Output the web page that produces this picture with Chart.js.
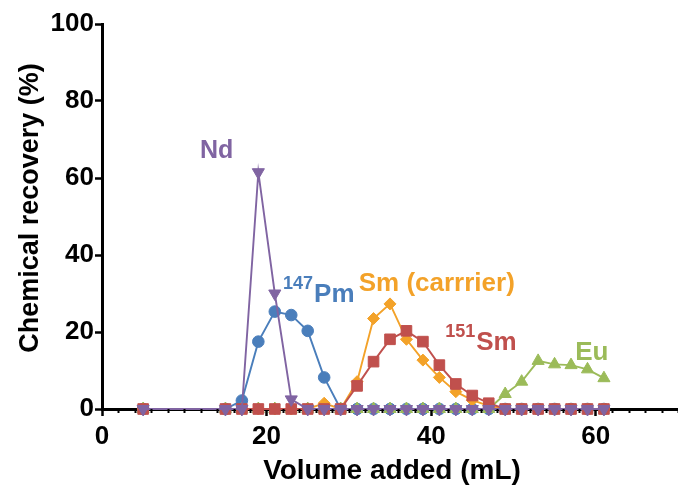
<!DOCTYPE html>
<html>
<head>
<meta charset="utf-8">
<script src="https://cdn.jsdelivr.net/npm/chart.js@4/dist/chart.umd.min.js"></script>
<style>
  html, body { margin: 0; padding: 0; background: #fff; }
  #wrap { width: 678px; height: 487px; position: relative; }
</style>
</head>
<body>
<div id="wrap"><canvas id="c" width="678" height="487"></canvas></div>
<script>
// Eluted volume (mL) at each collected fraction
const volume = [5, 15, 17, 19, 21, 23, 25, 27, 29, 31, 33, 35, 37, 39, 41, 43, 45, 47, 49, 51, 53, 55, 57, 59, 61];

// Chemical recovery (%) per fraction
const nd      = [0, 0, 0, 61.5, 30, 2.5, 0, 0, 0, 0, 0, 0, 0, 0, 0, 0, 0, 0, 0, 0, 0, 0, 0, 0, 0];
const pm147   = [0, 0, 2.2, 17.5, 25.3, 24.4, 20.3, 8.2, 0, 0, 0, 0, 0, 0, 0, 0, 0, 0, 0, 0, 0, 0, 0, 0, 0];
const smCarr  = [0, 0, 0, 0, 0, 0, 0, 1.5, 0, 7.1, 23.5, 27.3, 18.1, 12.7, 8.2, 4.5, 2.3, 0.8, 0, 0, 0, 0, 0, 0, 0];
const sm151   = [0, 0, 0, 0, 0, 0, 0, 0, 0, 6.0, 12.3, 18.1, 20.3, 17.5, 11.4, 6.5, 3.5, 1.5, 0, 0, 0, 0, 0, 0, 0];
const eu      = [0, 0, 0, 0, 0, 0, 0, 0, 0, 0, 0, 0, 0, 0, 0, 0, 0, 0, 3.9, 7.1, 12.5, 11.6, 11.4, 10.3, 8.0];

const yTicks = [0, 20, 40, 60, 80, 100];
const xTicks = [0, 20, 40, 60];

const COL = {
  nd: '#8064A2',
  pm: '#4A7EBB',
  smc: '#F3A229',
  sm: '#C0504D',
  eu: '#9BBB59'
};

const pts = arr => volume.map((v, i) => ({ x: v, y: arr[i] }));

function series(label, arr, color, style, radius, order, rotation) {
  return {
    label, data: pts(arr),
    borderColor: color, backgroundColor: color,
    pointBackgroundColor: color, pointBorderColor: color,
    pointStyle: style, pointRadius: radius, pointHoverRadius: radius,
    pointRotation: rotation || 0,
    borderWidth: 1.9, pointBorderWidth: 1,
    tension: 0, clip: false, order
  };
}

const FONT = '"Liberation Sans", Arial, sans-serif';

// Series labels, placed in data coordinates
const seriesLabels = [
  { x: 11.9, y: 65.1, size: 25, parts: [{ t: 'Nd', sup: false }], color: COL.nd },
  { x: 22.0, y: 27.8, size: 26, parts: [{ t: '147', sup: true }, { t: 'Pm', sup: false }], color: COL.pm },
  { x: 31.2, y: 30.6, size: 26, parts: [{ t: 'Sm (carrrier)', sup: false }], color: COL.smc },
  { x: 41.7, y: 15.3, size: 26, parts: [{ t: '151', sup: true }, { t: 'Sm', sup: false }], color: COL.sm },
  { x: 57.5, y: 12.7, size: 26, parts: [{ t: 'Eu', sup: false }], color: COL.eu }
];

const decor = {
  id: 'decor',
  afterDraw(chart) {
    const ctx = chart.ctx;
    const xs = chart.scales.x, ys = chart.scales.y;
    const area = chart.chartArea;
    ctx.save();
    // minor ticks on the volume axis
    ctx.strokeStyle = '#000';
    ctx.lineWidth = 2;
    for (let v = 2; v <= 70; v += 2) {
      if (v % 20 === 0) continue;
      const px = Math.round(xs.getPixelForValue(v)) + 0.5;
      ctx.beginPath();
      ctx.moveTo(px, area.bottom);
      ctx.lineTo(px, area.bottom + 4);
      ctx.stroke();
    }
    // series labels
    ctx.textBaseline = 'alphabetic';
    ctx.textAlign = 'left';
    seriesLabels.forEach(l => {
      let px = xs.getPixelForValue(l.x);
      const py = ys.getPixelForValue(l.y);
      ctx.fillStyle = l.color;
      l.parts.forEach(p => {
        ctx.font = 'bold ' + (p.sup ? 18 : l.size) + 'px ' + FONT;
        ctx.fillText(p.t, px, p.sup ? py - 13 : py);
        px += ctx.measureText(p.t).width + (p.sup ? 1 : 0);
      });
    });
    // axis titles
    ctx.fillStyle = '#000';
    ctx.textAlign = 'center';
    ctx.font = 'bold 28px ' + FONT;
    ctx.fillText('Volume added (mL)', 392, 479);
    ctx.font = 'bold 27px ' + FONT;
    ctx.translate(38, 208);
    ctx.rotate(-Math.PI / 2);
    ctx.fillText('Chemical recovery (%)', 0, 0);
    ctx.restore();
  }
};

new Chart(document.getElementById('c'), {
  type: 'line',
  data: {
    datasets: [
      series('Nd', nd, COL.nd, 'triangle', 7, 0, 180),
      series('147Pm', pm147, COL.pm, 'circle', 5.8, 4),
      series('Sm (carrrier)', smCarr, COL.smc, 'rectRot', 6, 2),
      series('151Sm', sm151, COL.sm, 'rect', 7.5, 1),
      series('Eu', eu, COL.eu, 'triangle', 7, 3)
    ]
  },
  options: {
    responsive: false,
    animation: false,
    events: [],
    layout: { autoPadding: false, padding: { top: 24, right: 0, left: 0, bottom: 0 } },
    plugins: { legend: { display: false }, tooltip: { enabled: false }, title: { display: false } },
    scales: {
      x: {
        type: 'linear', min: 0, max: 70,
        afterFit: s => { s.height = 78; },
        afterBuildTicks: s => { s.ticks = xTicks.map(v => ({ value: v })); },
        ticks: { color: '#000', font: { family: FONT, size: 26, weight: 'bold' }, padding: 5, maxRotation: 0 },
        grid: { display: true, drawOnChartArea: false, drawTicks: true, tickLength: 7, tickWidth: 2.5, tickColor: '#000' },
        border: { display: true, color: '#000', width: 3 }
      },
      y: {
        type: 'linear', min: 0, max: 100,
        afterFit: s => { s.width = 102; },
        afterBuildTicks: s => { s.ticks = yTicks.map(v => ({ value: v })); },
        ticks: { color: '#000', font: { family: FONT, size: 26, weight: 'bold' }, padding: 1 },
        grid: { display: true, drawOnChartArea: false, drawTicks: true, tickLength: 7, tickWidth: 2.5, tickColor: '#000' },
        border: { display: true, color: '#000', width: 3 }
      }
    }
  },
  plugins: [decor]
});
</script>
</body>
</html>
